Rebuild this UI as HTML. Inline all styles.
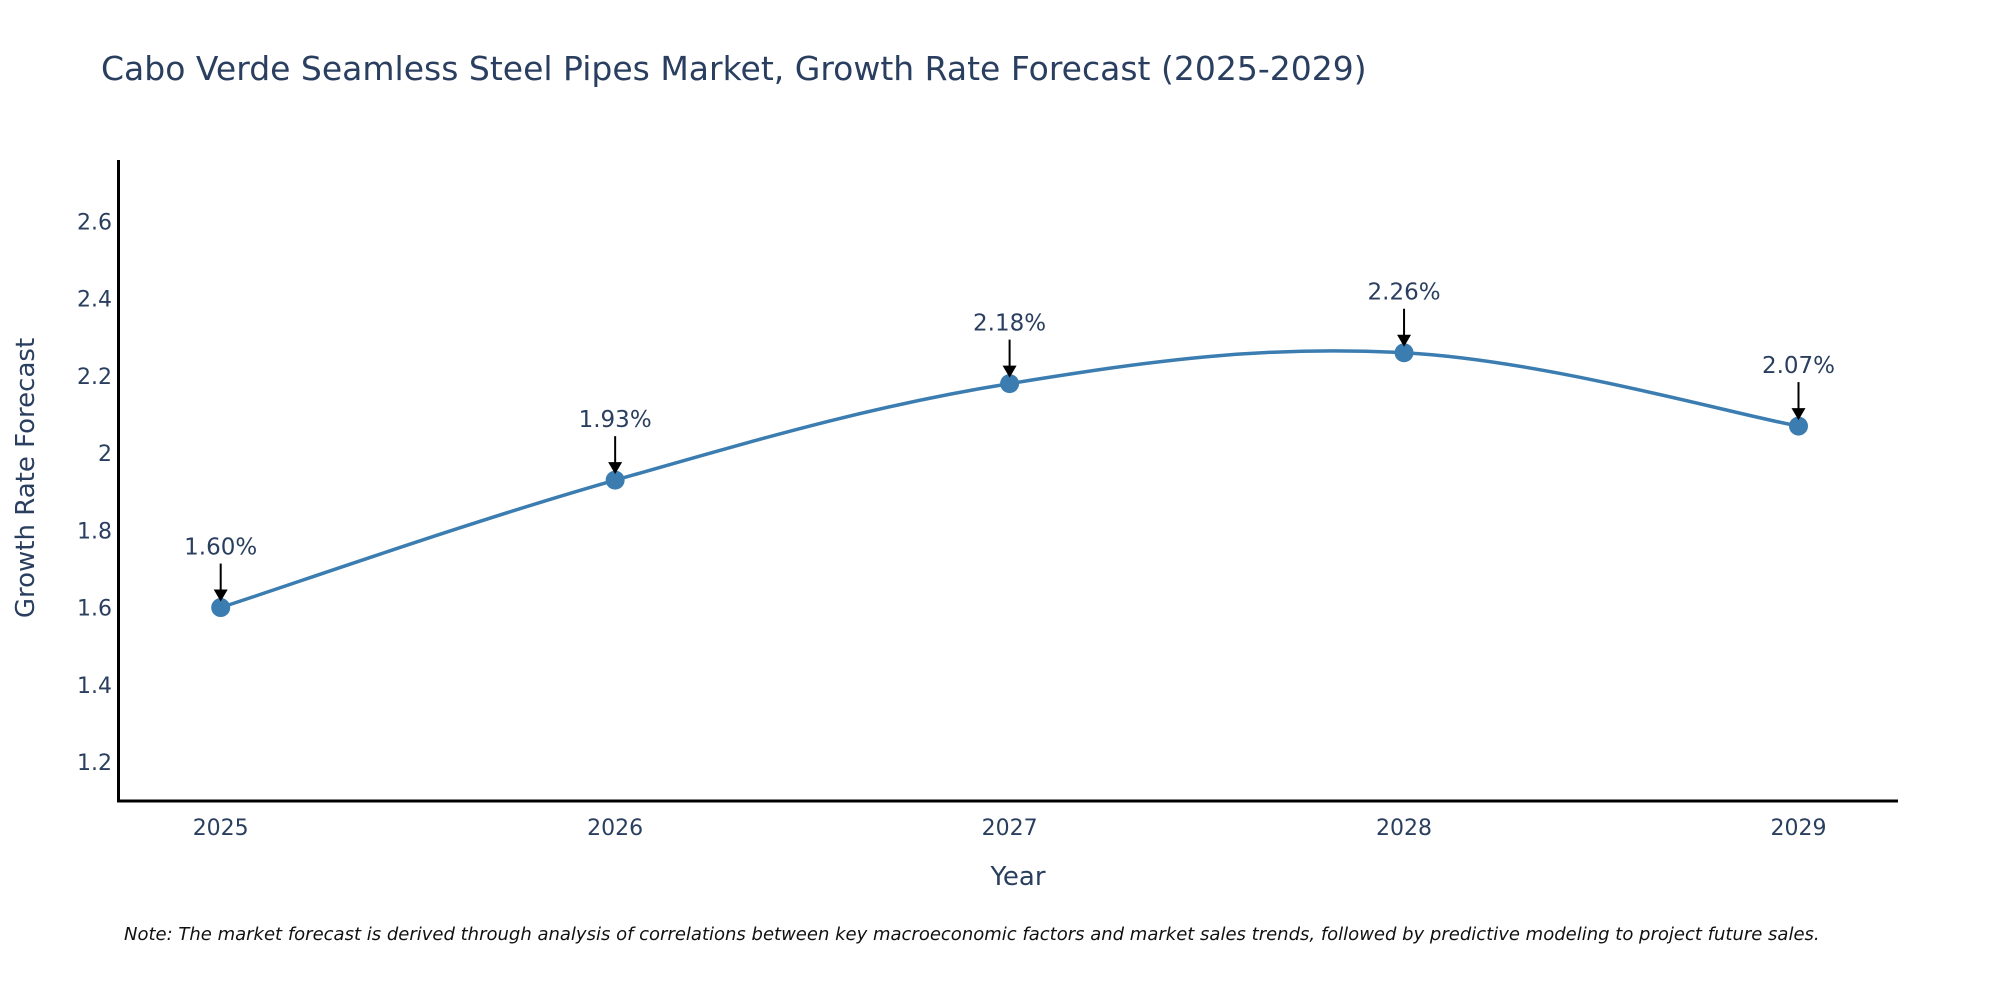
<!DOCTYPE html>
<html><head><meta charset="utf-8"><style>
html,body{margin:0;padding:0;background:#fff;}
svg{display:block;font-family:"DejaVu Sans","Liberation Sans",sans-serif;}
</style></head><body>
<svg id="chart" width="2000" height="1000" viewBox="0 0 2000 1000">
<text x="101" y="80" font-size="33" fill="#2a3f5f">Cabo Verde Seamless Steel Pipes Market, Growth Rate Forecast (2025-2029)</text>
<g id="yticks"></g>
<g id="xticks"></g>
<line x1="118.5" y1="160" x2="118.5" y2="802" stroke="#000" stroke-width="3"/>
<line x1="117" y1="801" x2="1898" y2="801" stroke="#000" stroke-width="3"/>
<path id="line" fill="none" stroke="#3b7db0" stroke-width="3.5"/>
<g id="points"></g>
<g id="annots"></g>
<text x="1018" y="885" font-size="26" fill="#2a3f5f" text-anchor="middle">Year</text>
<text transform="translate(34,478) rotate(-90)" font-size="26" fill="#2a3f5f" text-anchor="middle">Growth Rate Forecast</text>
<text x="124" y="940" font-size="18" font-style="italic" fill="#111">Note: The market forecast is derived through analysis of correlations between key macroeconomic factors and market sales trends, followed by predictive modeling to project future sales.</text>
</svg>
<script>
const years = [2025, 2026, 2027, 2028, 2029];
const values = [1.60, 1.93, 2.18, 2.26, 2.07];
const labels = ["1.60%", "1.93%", "2.18%", "2.26%", "2.07%"];
const yTickValues = [1.2, 1.4, 1.6, 1.8, 2, 2.2, 2.4, 2.6];
const yTickLabels = ["1.2", "1.4", "1.6", "1.8", "2", "2.2", "2.4", "2.6"];

const NS = "http://www.w3.org/2000/svg";
const X0 = 220.7, X1 = 1798.5;
const xScale = yr => X0 + (yr - years[0]) * (X1 - X0) / (years[years.length-1] - years[0]);
const yScale = v => 762 - (v - 1.2) * 386.1;
function mk(tag, attrs, parent){const e=document.createElementNS(NS,tag);for(const k in attrs)e.setAttribute(k,attrs[k]);parent.appendChild(e);return e;}

const yt = document.getElementById('yticks');
yTickValues.forEach((v,i)=>{
  const t = mk('text',{x:112,y:yScale(v)+8,'font-size':22,fill:'#2a3f5f','text-anchor':'end'},yt);
  
  
  t.textContent = yTickLabels[i];
});
const xt = document.getElementById('xticks');
years.forEach(yr=>{
  const t = mk('text',{x:xScale(yr),y:835,'font-size':22,fill:'#2a3f5f','text-anchor':'middle'},xt);
  
  
  t.textContent = yr;
});

const pts = years.map((yr,i)=>[xScale(yr), yScale(values[i])]);
let d = `M${pts[0][0]},${pts[0][1]}`;
const s = 0.18;
for(let i=0;i<pts.length-1;i++){
  const p0=pts[Math.max(0,i-1)], p1=pts[i], p2=pts[i+1], p3=pts[Math.min(pts.length-1,i+2)];
  const c1=[p1[0]+(p2[0]-p0[0])*s, p1[1]+(p2[1]-p0[1])*s];
  const c2=[p2[0]-(p3[0]-p1[0])*s, p2[1]-(p3[1]-p1[1])*s];
  d += ` C${c1[0]},${c1[1]} ${c2[0]},${c2[1]} ${p2[0]},${p2[1]}`;
}
document.getElementById('line').setAttribute('d', d);

const pg = document.getElementById('points');
const ag = document.getElementById('annots');
pts.forEach((p,i)=>{
  const c = mk('circle',{cx:p[0],cy:p[1],r:9.5,fill:'#3b7db0'},pg);
  
  
  const l = mk('line',{x1:p[0],y1:p[1]-44,x2:p[0],y2:p[1]-16,stroke:'#000','stroke-width':2},ag);
  
  
  const h = mk('path',{d:`M${p[0]-7},${p[1]-18} L${p[0]+7},${p[1]-18} L${p[0]},${p[1]-6} Z`,fill:'#000'},ag);
  
  
  const t = mk('text',{x:p[0],y:p[1]-53,'font-size':23,fill:'#2a3f5f','text-anchor':'middle'},ag);
  
  
  t.textContent = labels[i];
});
</script>
</body></html>
